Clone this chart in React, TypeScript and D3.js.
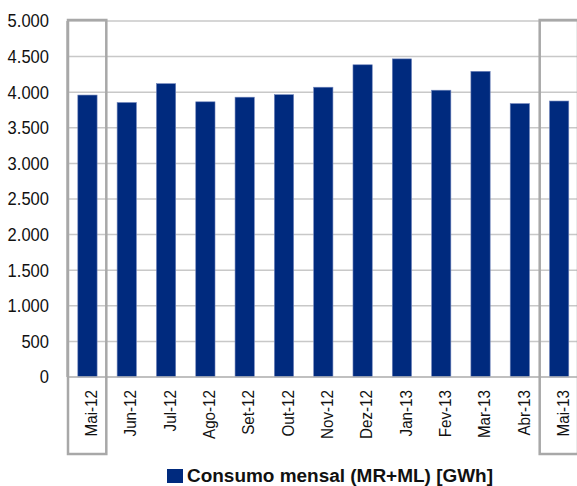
import React from "react";
import * as d3 from "d3";

const categories = ["Mai-12","Jun-12","Jul-12","Ago-12","Set-12","Out-12","Nov-12","Dez-12","Jan-13","Fev-13","Mar-13","Abr-13","Mai-13"];
const consumo = [3960, 3855, 4120, 3865, 3930, 3965, 4070, 4385, 4468, 4028, 4293, 3840, 3876];
const yTicks = [0, 500, 1000, 1500, 2000, 2500, 3000, 3500, 4000, 4500, 5000];
const seriesName = "Consumo mensal (MR+ML) [GWh]";
const highlighted = ["Mai-12", "Mai-13"];

const W = 577, H = 486;
const left = 67, right = 578, top = 21, bottom = 377;

export default function App() {
  const x = d3.scaleBand<string>().domain(categories).range([left, right]).padding(0);
  const y = d3.scaleLinear().domain([0, 5000]).range([bottom, top]);
  const bw = x.bandwidth();
  const barW = bw * 0.49;
  const fmt = (v: number) => d3.format(",")(v).replace(/,/g, ".");
  const font = "'Liberation Sans', Arial, sans-serif";

  return (
    <svg width={W} height={H} style={{ position: "absolute", left: 0, top: 0, background: "#fff" }} fontFamily={font}>
      {yTicks.map((t) => (
        <line key={"g" + t} x1={left} x2={W + 2} y1={y(t)} y2={y(t)} stroke="#c8c8c8" strokeWidth={1.5} />
      ))}
      <line x1={left} x2={left} y1={top} y2={bottom} stroke="#b0b0b0" strokeWidth={1.5} />
      {yTicks.map((t) => (
        <text key={"t" + t} transform={`translate(49,${y(t)}) scale(0.92,1)`} dy="0.36em" textAnchor="end" fontSize={18} fill="#111">
          {fmt(t)}
        </text>
      ))}
      {categories.map((c, i) => {
        const cx = (x(c) as number) + bw / 2 + 0.8;
        return (
          <rect key={"b" + c} x={cx - barW / 2} y={y(consumo[i])} width={barW} height={y(0) - y(consumo[i])}
            fill="#002a7e" stroke="#6f84bb" strokeWidth={0.6} />
        );
      })}
      <line x1={left} x2={W + 2} y1={y(0)} y2={y(0)} stroke="#b8b8b8" strokeWidth={1.5} />
      {categories.map((c) => {
        const cx = (x(c) as number) + bw / 2;
        return (
          <text key={"l" + c} transform={`translate(${cx + 10.5},390) rotate(-90) scale(0.95,1)`} textAnchor="end" fontSize={16} fill="#111">
            {c}
          </text>
        );
      })}
      {highlighted.map((c) => {
        const x0 = x(c) as number;
        return (
          <rect key={"h" + c} x={x0 + 1} y={20} width={bw - 1} height={434} fill="none" stroke="#a8a8a8" strokeWidth={2.5} />
        );
      })}
      <rect x={167} y={469} width={16} height={14} fill="#002a7e" />
      <text x={187} y={482} fontSize={18} fontWeight="bold" fill="#111" textLength={306} lengthAdjust="spacingAndGlyphs">
        {seriesName}
      </text>
    </svg>
  );
}
